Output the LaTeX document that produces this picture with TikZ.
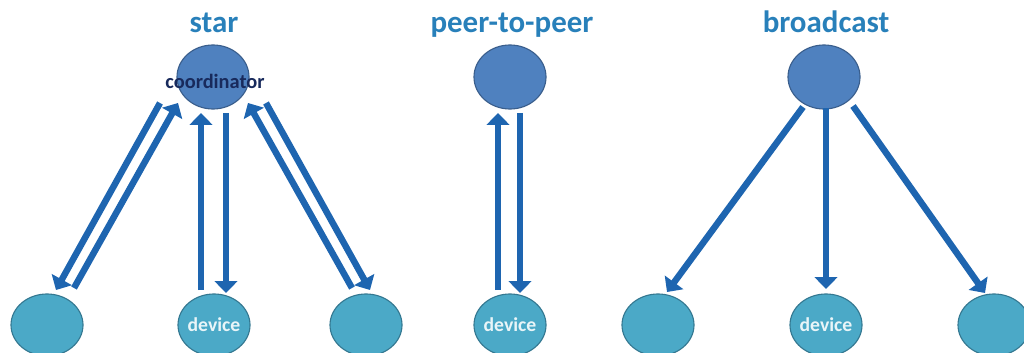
\documentclass[tikz,border=0pt]{standalone}
\usepackage{fontspec}
\setmainfont{Carlito}
\usetikzlibrary{arrows.meta,shapes.geometric}

\begin{document}
\begin{tikzpicture}[x=0.025cm, y=-0.025cm,
    every node/.style={font=\bfseries},
    title/.style={anchor=base, text=headblue, font=\bfseries\fontsize{22}{26}\selectfont},
    hub/.style={ellipse, draw=hubline, fill=hubfill, line width=0.8pt,
      minimum width=1.8cm, minimum height=1.6cm, inner sep=0pt},
    dev/.style={ellipse, draw=devline, fill=devfill, line width=0.8pt,
      minimum width=1.8cm, minimum height=1.55cm, inner sep=0pt},
    devtext/.style={text=devfill!12, font=\bfseries\fontsize{14}{16}\selectfont},
    flow/.style={draw=flowblue, line width=4.6pt,
      -{Triangle[width=16pt, length=8.5pt]}}]
  \definecolor{headblue}{RGB}{40,128,186}
  \definecolor{hubfill}{RGB}{79,129,191}
  \definecolor{hubline}{RGB}{58,94,140}
  \definecolor{devfill}{RGB}{75,169,199}
  \definecolor{devline}{RGB}{52,120,145}
  \definecolor{flowblue}{RGB}{30,101,176}
  \definecolor{navy}{RGB}{24,42,92}
  \useasboundingbox (0,0) rectangle (1024,353);

  % star
  \node[title] (startitle) at (214,33) {star};
  \node[hub] (co) at (213,77) {};
  \node[text=navy, font=\bfseries\fontsize{14.5}{16}\selectfont]
    (colabel) at (215,81) {coordinator};
  \node[dev] (d1) at (47,325) {};
  \node[dev, label={[devtext]center:device}] (d2) at (214,325) {};
  \node[dev] (d3) at (366,325) {};
  \draw[flow] ([shift={(-53,26)}]co.center) -- ([shift={(9,-35)}]d1.center);
  \draw[flow] ([shift={(27,-37)}]d1.center) -- ([shift={(-35,26)}]co.center);
  \draw[flow] ([shift={(-13,-35)}]d2.center) -- ([shift={(-12,36)}]co.center);
  \draw[flow] ([shift={(13,36)}]co.center) -- ([shift={(12,-32)}]d2.center);
  \draw[flow] ([shift={(-14,-37)}]d3.center) -- ([shift={(35,26)}]co.center);
  \draw[flow] ([shift={(53,26)}]co.center) -- ([shift={(4,-35)}]d3.center);

  % peer-to-peer
  \node[title] (p2ptitle) at (512,33) {peer-to-peer};
  \node[hub] (pc) at (510,77) {};
  \node[dev, label={[devtext]center:device}] (pd) at (510,325) {};
  \draw[flow] ([shift={(-12,-35)}]pd.center) -- ([shift={(-12,36)}]pc.center);
  \draw[flow] ([shift={(10,36)}]pc.center) -- ([shift={(10,-32)}]pd.center);

  % broadcast
  \node[title] (bctitle) at (826,33) {broadcast};
  \node[hub] (bc) at (824,77) {};
  \node[dev] (b1) at (658,325) {};
  \node[dev, label={[devtext]center:device}] (b2) at (826,325) {};
  \node[dev] (b3) at (994,325) {};
  \draw[flow] ([shift={(-21,30)}]bc.center) -- ([shift={(9,-33)}]b1.center);
  \draw[flow] ([shift={(2,31)}]bc.center) -- ([shift={(0,-36)}]b2.center);
  \draw[flow] ([shift={(29,29)}]bc.center) -- ([shift={(-9,-32)}]b3.center);
\end{tikzpicture}
\end{document}
